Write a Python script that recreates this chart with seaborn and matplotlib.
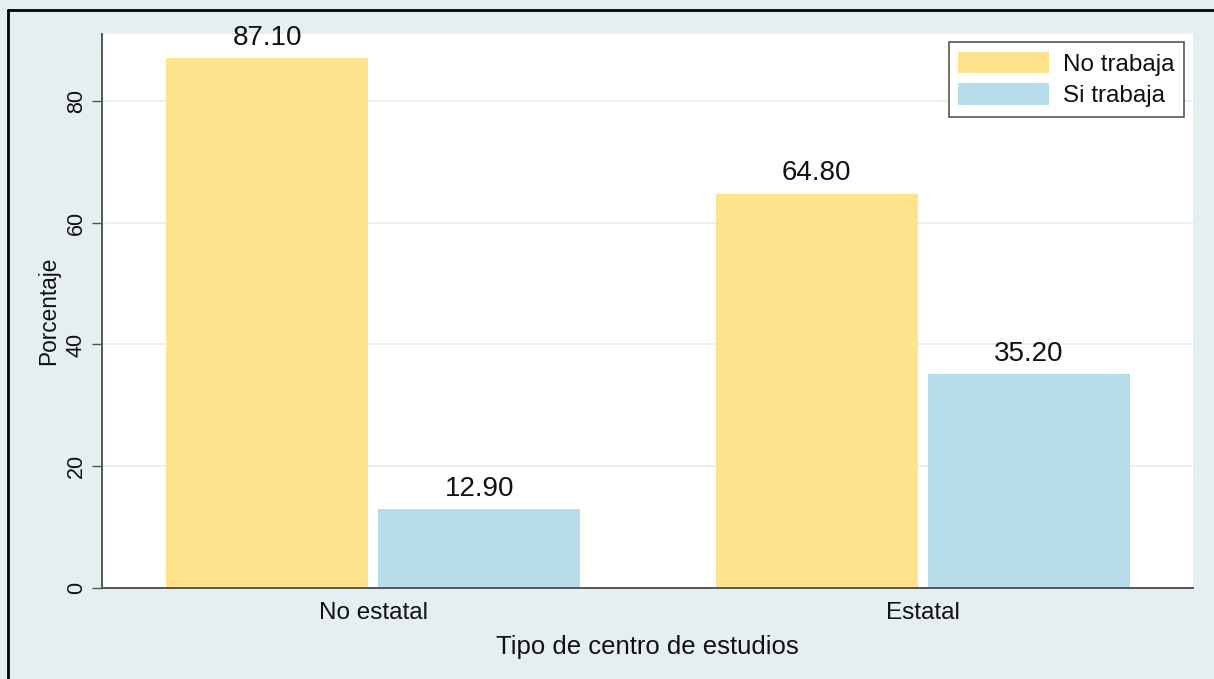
import matplotlib
matplotlib.use("Agg")
import matplotlib.pyplot as plt
from matplotlib.lines import Line2D
import seaborn as sns
import pandas as pd

categories = ["No estatal", "Estatal"]
groups = ["No trabaja", "Si trabaja"]
no_trabaja = [87.10, 64.80]
si_trabaja = [12.90, 35.20]
yticks = [0, 20, 40, 60, 80]

df = pd.DataFrame({
    "tipo": categories * 2,
    "grupo": [groups[0]] * 2 + [groups[1]] * 2,
    "valor": no_trabaja + si_trabaja,
})

sns.set_theme(style="white")
plt.rcParams["font.family"] = ["Liberation Sans", "DejaVu Sans"]

BG = "#E5EEF0"
TXT = "#111111"
fig = plt.figure(figsize=(12.14, 6.79), dpi=100, facecolor=BG)
ax = fig.add_axes([0.0840, 0.1340, 0.9827 - 0.0840, 0.9499 - 0.1340])
ax.set_facecolor("white")

sns.barplot(data=df, x="tipo", y="valor", hue="grupo", order=categories,
            hue_order=groups, palette=["#FFE38C", "#B7DCEA"],
            width=0.772, gap=0.047, linewidth=0, saturation=1, ax=ax, zorder=2)

for cont in ax.containers:
    for bar in cont:
        h = bar.get_height()
        ax.annotate(f"{h:.2f}", (bar.get_x() + bar.get_width() / 2, h),
                    xytext=(0, 9.5), textcoords="offset points",
                    ha="center", va="baseline", fontsize=20, color=TXT)

ax.set_xlim(-0.494, 1.492)
ax.set_ylim(0, 91.0)
ax.set_yticks(yticks)
ax.set_yticklabels([str(v) for v in yticks], rotation=90, va="center", fontsize=15.5)
ax.tick_params(axis="y", length=7, width=1, color="#555555", pad=4, left=True)
ax.tick_params(axis="x", length=0, pad=10, labelsize=17.5)
for t in ax.get_xticklabels() + ax.get_yticklabels():
    t.set_color(TXT)
ax.grid(axis="y", color="#E3ECEF", linewidth=1.2, zorder=0)
ax.set_axisbelow(True)

for s in ["top", "right"]:
    ax.spines[s].set_visible(False)
for s in ["left", "bottom"]:
    ax.spines[s].set_color("#555555")
    ax.spines[s].set_linewidth(1.4)

ax.set_xlabel("Tipo de centro de estudios", fontsize=18.5, color=TXT, labelpad=8)
ax.set_ylabel("Porcentaje", fontsize=16.3, color=TXT, labelpad=4)

leg = ax.legend(loc="upper right", bbox_to_anchor=(0.9918, 0.9856), borderaxespad=0,
                fontsize=17.5, frameon=True, fancybox=False, handlelength=3.75,
                handleheight=1.0, handletextpad=0.55, labelspacing=0.3,
                borderpad=0.4, title=None)
leg.get_frame().set_edgecolor("#555555")
leg.get_frame().set_linewidth(1.2)
leg.get_frame().set_alpha(1)
for t in leg.get_texts():
    t.set_color(TXT)

fig.add_artist(Line2D([8 / 1214, 1], [1 - 10 / 679, 1 - 10 / 679],
                      transform=fig.transFigure, color="black", linewidth=2))
fig.add_artist(Line2D([8 / 1214, 8 / 1214], [0, 1 - 10 / 679],
                      transform=fig.transFigure, color="black", linewidth=2))

fig.savefig("out.png", dpi=100, facecolor=BG)
